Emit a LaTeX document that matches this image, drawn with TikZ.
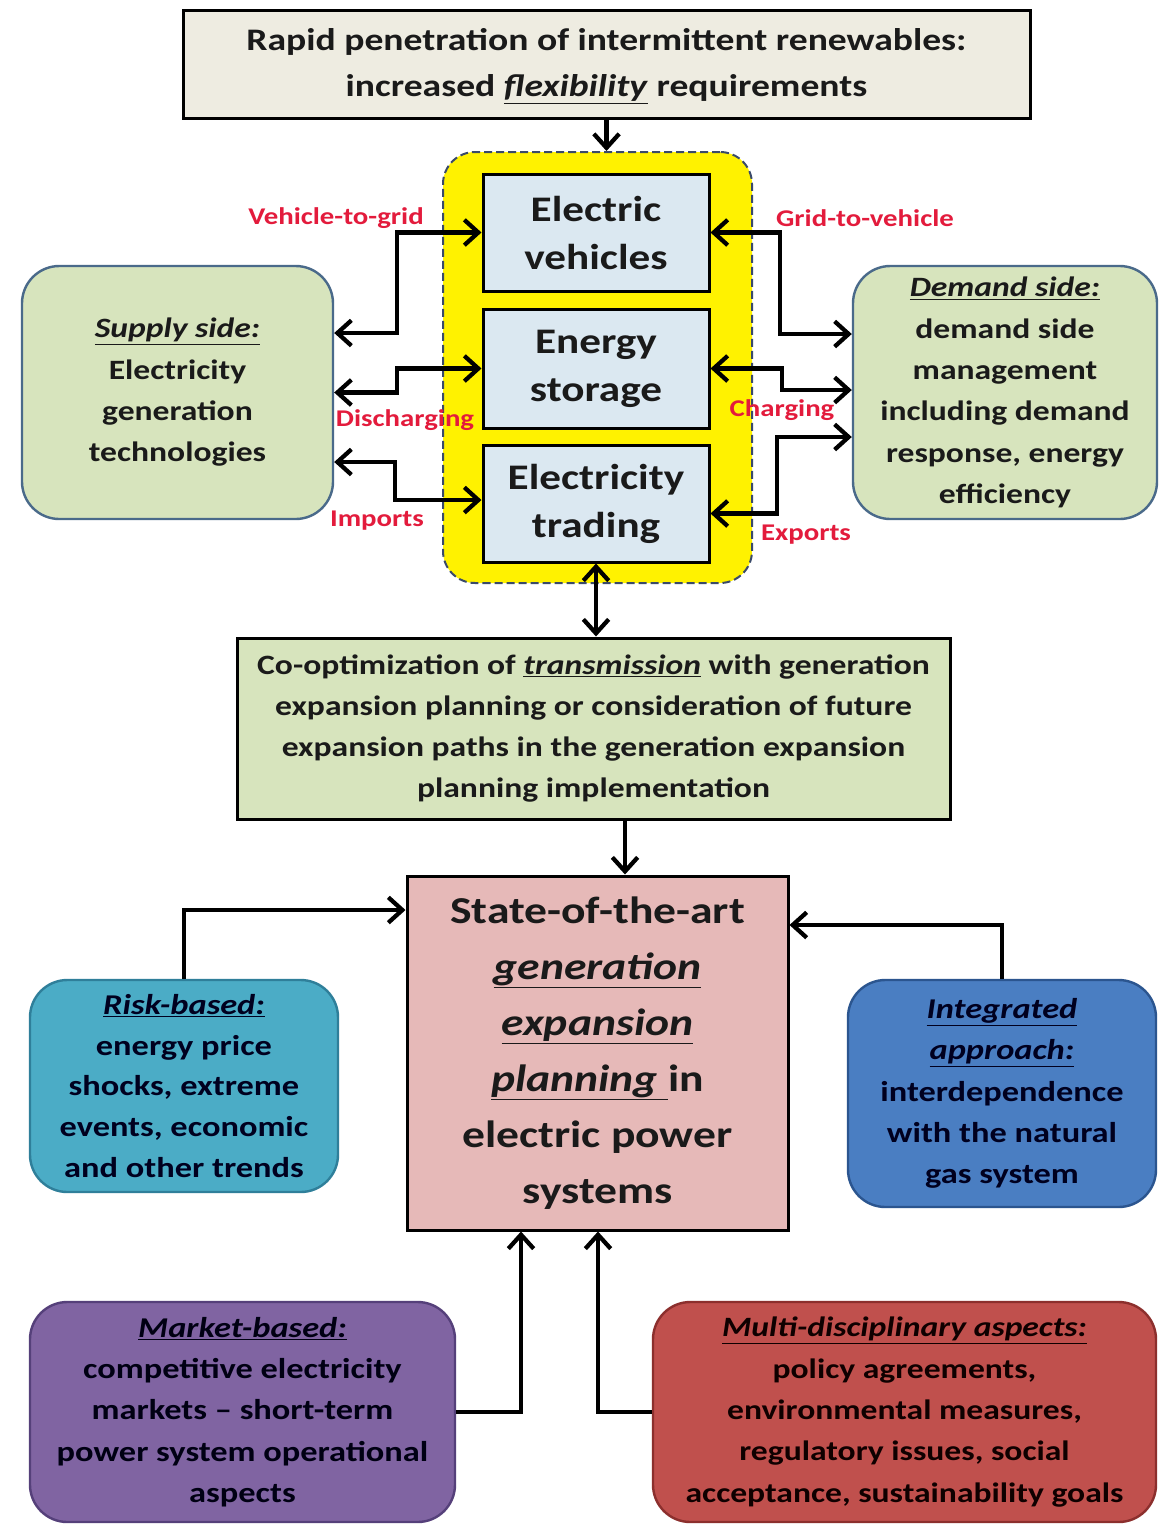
\documentclass[tikz,border=0pt]{standalone}
\usepackage{fontspec}
\setmainfont{Carlito}[FakeStretch=1.2]
\usetikzlibrary{arrows.meta,calc}
\definecolor{topfill}{HTML}{EEECE1}
\definecolor{evfill}{HTML}{DBE8F1}
\definecolor{grn}{HTML}{D7E4BD}
\definecolor{grnborder}{HTML}{4A6A8A}
\definecolor{pinkfill}{HTML}{E6B9B8}
\definecolor{riskfill}{HTML}{4BACC6}
\definecolor{riskborder}{HTML}{2F7F9A}
\definecolor{intfill}{HTML}{4A7EC2}
\definecolor{intborder}{HTML}{2B558F}
\definecolor{mktfill}{HTML}{8064A2}
\definecolor{mktborder}{HTML}{55407A}
\definecolor{mulfill}{HTML}{C0504D}
\definecolor{mulborder}{HTML}{8C2F2D}
\definecolor{lblred}{HTML}{E31B3C}
\definecolor{yelborder}{HTML}{3A4A6A}
\definecolor{darktxt}{HTML}{1A1A1A}
\tikzset{
  sqbox/.style={draw=black, line width=2.25pt, align=center, inner sep=0pt, text=darktxt, font=\bfseries},
  rbox/.style={line width=1.8pt, rounded corners=28pt, align=center, inner sep=0pt, font=\bfseries},
  conn/.style={line width=3.2pt, draw=black},
  tipb/.tip={Straight Barb[length=10.5pt,width=19pt,line width=3.2pt]},
  arr/.style={conn, -tipb},
  dbl/.style={conn, tipb-tipb},
  lbl/.style={text=lblred, font=\bfseries\fontsize{18}{21}\selectfont, inner sep=0pt}
}
\begin{document}
\begin{tikzpicture}[x=0.75pt,y=-0.75pt]
\useasboundingbox[fill=white] (0,0) rectangle (1158,1525);

% top box
\node[sqbox, fill=topfill, minimum width=635.25pt, minimum height=81pt,
  font=\bfseries\fontsize{23.5}{34}\selectfont] (top) at (606.5,64)
  {\rule{0pt}{20pt}Rapid penetration of intermittent renewables:\\increased \underline{\textit{flexibility}} requirements};

% yellow container
\node[draw=yelborder, dash pattern=on 6pt off 3pt, line width=1.5pt, fill=yellow, rounded corners=24pt,
  minimum width=231.75pt, minimum height=323.25pt, inner sep=0pt] (yel) at (597.5,367.5) {};

\node[sqbox, fill=evfill, minimum width=169.5pt, minimum height=87.75pt,
  font=\bfseries\fontsize{27}{36}\selectfont] (ev) at (596,232.5) {Electric\\vehicles};
\node[sqbox, fill=evfill, minimum width=169.5pt, minimum height=89.25pt,
  font=\bfseries\fontsize{27}{36}\selectfont] (es) at (596,368.5) {Energy\\storage};
\node[sqbox, fill=evfill, minimum width=169.5pt, minimum height=87.75pt,
  font=\bfseries\fontsize{27}{36}\selectfont] (et) at (596,503.5) {Electricity\\trading};

% supply / demand
\node[rbox, draw=grnborder, fill=grn, text=darktxt, minimum width=233.25pt, minimum height=189.75pt,
  font=\bfseries\fontsize{21}{31}\selectfont] (supply) at (177.5,392.5)
  {\underline{\textit{Supply side:}}\\Electricity\\generation\\technologies};
\node[rbox, draw=grnborder, fill=grn, text=darktxt, minimum width=228pt, minimum height=189.75pt,
  font=\bfseries\fontsize{21}{31}\selectfont] (demand) at (1005,392.5)
  {\underline{\textit{Demand side:}}\\demand side\\management\\including demand\\response, energy\\efficiency};

% co-optimization
\node[sqbox, fill=grn, minimum width=534.75pt, minimum height=135.75pt,
  font=\bfseries\fontsize{21}{30.75}\selectfont] (coopt) at (593.5,728.5)
  {Co-optimization of \underline{\textit{transmission}} with generation\\expansion planning or consideration of future\\expansion paths in the generation expansion\\planning implementation};

% state of the art
\node[sqbox, fill=pinkfill, minimum width=285.75pt, minimum height=265.5pt,
  font=\bfseries\fontsize{28.5}{42}\selectfont] (sota) at (597.5,1053)
  {State-of-the-art\\\underline{\textit{generation}}\\\underline{\textit{expansion}}\\\underline{\textit{planning }}in\\electric power\\systems};

% side boxes
\node[rbox, draw=riskborder, fill=riskfill, text=black!80!blue!60!black, minimum width=231pt, minimum height=159pt,
  font=\bfseries\fontsize{21.5}{30.5}\selectfont] (risk) at (184,1086)
  {\underline{\textit{Risk-based:}}\\energy price\\shocks, extreme\\events, economic\\and other trends};
\node[rbox, draw=intborder, fill=intfill, text=black!80!blue!60!black, minimum width=231pt, minimum height=170.25pt,
  font=\bfseries\fontsize{21.5}{31}\selectfont] (integ) at (1002,1093.5)
  {\underline{\textit{Integrated}}\\\underline{\textit{approach:}}\\interdependence\\with the natural\\gas system};
\node[rbox, draw=mktborder, fill=mktfill, text=black!85!blue!50!black, minimum width=318.75pt, minimum height=165pt,
  font=\bfseries\fontsize{21.5}{31}\selectfont] (market) at (242.5,1412)
  {\underline{\textit{Market-based:}}\\competitive electricity\\markets -- short-term\\power system operational\\aspects};
\node[rbox, draw=mulborder, fill=mulfill, text=black!85!red!40!black, minimum width=377.25pt, minimum height=165pt,
  font=\bfseries\fontsize{21}{31}\selectfont] (multi) at (904.5,1412)
  {\underline{\textit{Multi-disciplinary aspects:}}\\policy agreements,\\environmental measures,\\regulatory issues, social\\acceptance, sustainability goals};

% connectors
\draw[arr] (top.south) -- (top.south |- yel.north);

\draw[dbl] ($(supply.east)+(0,-59.5)$) -| (397,232.5) -- (ev.west);
\draw[dbl] (supply.east) -| (397,368.5) -- (es.west);
\draw[dbl] ($(supply.east)+(0,69.5)$) -| (395,500) -- ($(et.west)+(0,-3.5)$);

\draw[dbl] (ev.east) -- (780,232.5) |- ($(demand.west)+(0,-58.5)$);
\draw[dbl] (es.east) -- (782,368.5) |- ($(demand.west)+(0,-2.5)$);
\draw[dbl] ($(et.east)+(0,10)$) -- (777,513.5) |- ($(demand.west)+(0,44.5)$);

\draw[dbl] (et.south) -- (et.south |- coopt.north);
\draw[arr] ($(coopt.south)+(31.5,0)$) coordinate (c1) -- (c1 |- sota.north);

\draw[arr] (risk.north) |- ($(sota.west)+(0,-143)$);
\draw[arr] (integ.north) |- ($(sota.east)+(0,-128)$);
\draw[arr] (market.east) -| ($(sota.south)+(-76.5,0)$);
\draw[arr] (multi.west) -| ($(sota.south)+(0.5,0)$);

% labels
\node[lbl] (l1) at (336,218) {Vehicle-to-grid};
\node[lbl] (l2) at (405,420) {Discharging};
\node[lbl] (l3) at (377,521) {Imports};
\node[lbl] (l4) at (865,218) {Grid-to-vehicle};
\node[lbl] (l5) at (782,410) {Charging};
\node[lbl] (l6) at (806,535) {Exports};
\end{tikzpicture}
\end{document}
